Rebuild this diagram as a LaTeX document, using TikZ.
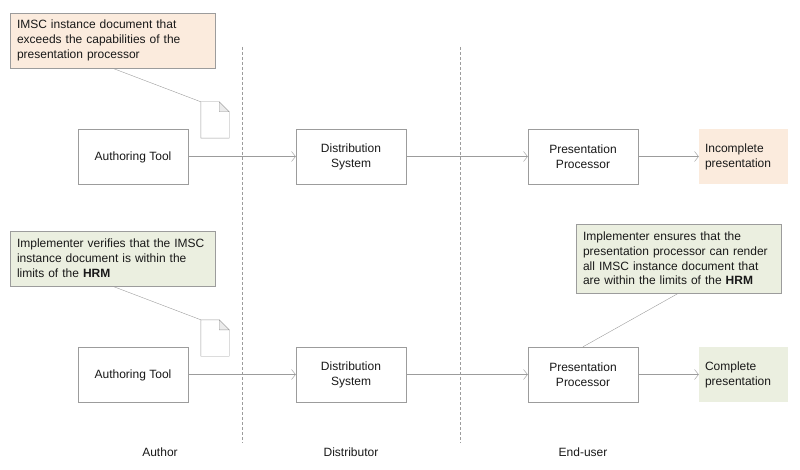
\documentclass[tikz,border=0pt]{standalone}
\usepackage{fontspec}
\setmainfont{Liberation Sans}
\usepackage{tikz}
\usetikzlibrary{arrows.meta, calc, positioning}
\definecolor{edgegray}{HTML}{9C9C9C}
\definecolor{peach}{HTML}{FBEBDD}
\definecolor{sage}{HTML}{EBEFE0}
\tikzstyle{process} = [rectangle, minimum width=110pt, minimum height=55pt, align=center, draw=edgegray, fill=white, text=black!90, font=\fontsize{12}{15}\selectfont]
\tikzstyle{remark} = [rectangle, draw=edgegray, minimum width=205pt, minimum height=55pt, inner xsep=7pt, inner ysep=4pt, text width=191pt, align=left, text=black!90, font=\fontsize{12}{14.8}\selectfont]
\tikzstyle{outcome} = [rectangle, minimum width=89pt, minimum height=55pt, inner xsep=6pt, text width=77pt, align=left, text=black!90, font=\fontsize{12}{15}\selectfont]
\tikzstyle{docicon} = [rectangle, minimum width=28pt, minimum height=36pt, inner sep=0pt]
\tikzstyle{role} = [text=black!90, font=\fontsize{12}{15}\selectfont]
\tikzstyle{arrow} = [edgegray, -{Straight Barb[length=4pt,width=10pt]}]
\tikzstyle{leader} = [edgegray]
\tikzstyle{lane} = [edgegray, densely dashed]
% folded page drawn on an empty node
\newcommand{\docpage}[1]{
\draw [edgegray, fill=white] (#1.north west) -- ($(#1.north east)+(-10,0)$) -- ($(#1.north east)+(0,10)$) -- (#1.south east) -- (#1.south west) -- cycle;
\draw [edgegray, fill=black!8] ($(#1.north east)+(-10,0)$) -- ($(#1.north east)+(-10,10)$) -- ($(#1.north east)+(0,10)$) -- cycle;
}
\begin{document}
\begin{tikzpicture}[x=1pt, y=-1pt]
\useasboundingbox (0,0) rectangle (800,470);
\coordinate (laneAtop) at (242,47);
\coordinate (laneAend) at (242,443);
\coordinate (laneBtop) at (460,47);
\coordinate (laneBend) at (460,443);
\draw [lane] (laneAtop) -- (laneAend);
\draw [lane] (laneBtop) -- (laneBend);

\node (noteA) [remark, fill=peach] at (112.5,40.5) {IMSC instance document that\\exceeds the capabilities of the\\presentation processor};
\node (docA) [docicon] at (215,120) {};
\node (toolA) [process, text depth=0pt] at (133,156.5) {Authoring Tool};
\node (distA) [process] at (351,156.5) {Distribution\\System};
\node (procA) [process] at (583,156.5) {Presentation\\Processor};
\node (endA) [outcome, fill=peach] at (743.5,156.5) {Incomplete\\presentation};

\node (noteB) [remark, fill=sage] at (112.5,258.5) {Implementer verifies that the IMSC\\instance document is within the\\limits of the \textbf{HRM}};
\node (docB) [docicon] at (215,338) {};
\node (toolB) [process, text depth=0pt] at (133,374.5) {Authoring Tool};
\node (distB) [process] at (351,374.5) {Distribution\\System};
\node (procB) [process] at (583,374.5) {Presentation\\Processor};
\node (endB) [outcome, fill=sage] at (743.5,374.5) {Complete\\presentation};
\node (noteC) [remark, fill=sage, minimum height=69pt] at (678.5,258.5) {Implementer ensures that the\\presentation processor can render\\all IMSC instance document that\\are within the limits of the \textbf{HRM}};

\node (roleA) [role] at (160,452) {Author};
\node (roleB) [role] at (351,452) {Distributor};
\node (roleC) [role] at (583,452) {End-user};

\docpage{docA}
\docpage{docB}
\draw [leader] (noteA.south) -- (docA.north west);
\draw [leader] (noteB.south) -- (docB.north west);
\draw [leader] (noteC.south) -- (procB.north);

\draw [arrow] (toolA) -- (distA);
\draw [arrow] (distA) -- (procA);
\draw [arrow] (procA) -- (endA);
\draw [arrow] (toolB) -- (distB);
\draw [arrow] (distB) -- (procB);
\draw [arrow] (procB) -- (endB);
\end{tikzpicture}
\end{document}
